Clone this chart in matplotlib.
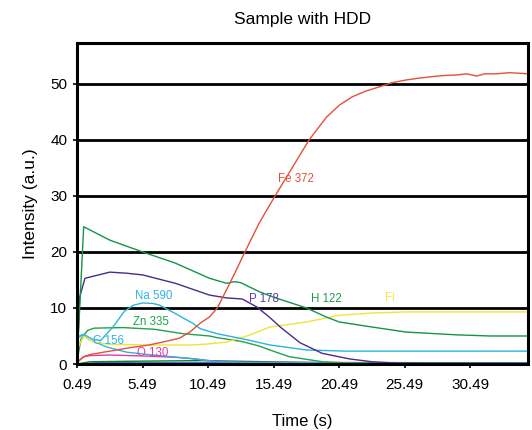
"""Sample with HDD: element intensity traces vs time."""
import matplotlib
matplotlib.use("Agg")
import matplotlib.pyplot as plt

plt.rcParams["font.family"] = ["Liberation Sans", "DejaVu Sans"]

# ---- data ------------------------------------------------------------------
fe_t = [0.49, 1.0, 1.5, 3.0, 4.5, 6.0, 7.0, 8.3, 9.1, 9.9, 10.6, 11.2, 12.4, 13.3, 14.4,
        15.6, 16.9, 18.2, 19.5, 20.5, 21.5, 22.5, 23.6, 24.5, 25.6, 26.5, 27.6, 28.5,
        29.5, 30.2, 31.0, 31.6, 32.5, 33.5, 34.9]
fe_y = [0.3, 1.3, 1.7, 2.3, 2.9, 3.4, 3.9, 4.6, 5.7, 7.3, 8.4, 10.0, 15.6, 20.0, 25.2,
        30.0, 35.0, 40.0, 44.0, 46.2, 47.7, 48.7, 49.5, 50.2, 50.7, 51.0, 51.3, 51.5,
        51.6, 51.8, 51.4, 51.8, 51.8, 52.0, 51.8]

h_t = [0.49, 1.0, 3.0, 5.5, 8.0, 10.6, 11.9, 12.5, 13.0, 14.4, 15.4, 16.7, 18.0, 19.5,
       20.5, 23.0, 25.6, 29.5, 32.0, 34.9]
h_y = [0.3, 24.5, 22.1, 20.0, 18.0, 15.3, 14.4, 14.7, 14.5, 12.9, 12.0, 11.0, 10.0, 8.4,
       7.5, 6.6, 5.7, 5.2, 5.0, 5.0]

p_t = [0.49, 0.7, 1.1, 3.0, 4.3, 5.5, 8.0, 10.6, 11.9, 13.1, 14.2, 15.2, 16.0, 17.5,
       19.2, 21.3, 23.0, 25.0, 34.9]
p_y = [0.2, 12.0, 15.3, 16.4, 16.2, 15.9, 14.4, 12.3, 11.8, 11.6, 10.2, 8.3, 6.6, 3.8,
       1.9, 0.9, 0.4, 0.15, 0.1]

na_t = [0.49, 1.0, 1.7, 2.3, 3.3, 4.1, 4.8, 5.5, 6.3, 6.8, 8.0, 8.6, 9.3, 9.9, 10.6,
        11.2, 13.1, 13.7, 15.2, 18.0, 21.0, 34.9]
na_y = [4.8, 5.3, 4.4, 4.2, 6.8, 9.4, 10.5, 10.9, 10.8, 10.5, 9.0, 8.2, 7.3, 6.3, 5.8,
        5.4, 4.5, 4.2, 3.4, 2.5, 2.3, 2.3]

c_t = [0.49, 0.9, 1.4, 2.8, 4.3, 6.3, 9.1, 11.1, 14.0, 34.9]
c_y = [4.6, 5.2, 4.4, 3.0, 2.1, 1.6, 1.0, 0.4, 0.25, 0.2]

zn_t = [0.49, 0.8, 1.3, 1.8, 4.0, 6.4, 8.6, 10.6, 11.2, 13.1, 14.4, 15.2, 16.7, 19.2,
        21.0, 34.9]
zn_y = [0.5, 4.5, 6.0, 6.4, 6.5, 6.2, 5.4, 5.0, 4.7, 4.0, 3.2, 2.5, 1.3, 0.4, 0.2, 0.1]

fi_t = [0.49, 1.0, 1.8, 3.0, 6.0, 9.3, 10.6, 11.9, 13.7, 15.2, 16.5, 18.0, 20.5, 23.0,
        25.6, 34.9]
fi_y = [2.5, 5.0, 3.9, 3.5, 3.4, 3.4, 3.6, 3.9, 5.2, 6.6, 7.0, 7.5, 8.7, 9.1, 9.3, 9.3]

o_t = [0.49, 1.0, 1.5, 3.0, 6.0, 8.0, 9.5, 11.0, 13.0, 34.9]
o_y = [0.3, 1.3, 1.5, 1.6, 1.4, 1.2, 0.9, 0.5, 0.3, 0.2]

base1_t = [0.49, 1.5, 5.0, 10.0, 15.0, 20.0, 34.9]
base1_y = [0.0, 0.4, 0.5, 0.6, 0.4, 0.2, 0.2]
base2_t = [0.49, 2.0, 34.9]
base2_y = [0.0, 0.2, 0.2]

x_ticks = [0.49, 5.49, 10.49, 15.49, 20.49, 25.49, 30.49]
y_ticks = [0, 10, 20, 30, 40, 50]

series = [
    (base2_t, base2_y, "#1565c0"),
    (base1_t, base1_y, "#0a7a3a"),
    (o_t, o_y, "#e8399b"),
    (c_t, c_y, "#2ab3e6"),
    (zn_t, zn_y, "#1fa34a"),
    (fi_t, fi_y, "#f0e43c"),
    (na_t, na_y, "#2ab3e6"),
    (p_t, p_y, "#4a2a8c"),
    (h_t, h_y, "#13944a"),
    (fe_t, fe_y, "#e4503a"),
]

labels = [
    ("Fe 372", 278, 179, "#e4503a"),
    ("P 178", 249, 299, "#5a3d9a"),
    ("H 122", 311, 299, "#1e9c4c"),
    ("Fi", 385, 298, "#f2e84a"),
    ("Na 590", 135, 296, "#2ab3e6"),
    ("Zn 335", 133, 322, "#1fa34a"),
    ("C 156", 93, 341, "#2ab3e6"),
    ("O 130", 137, 353, "#e8399b"),
]

fig = plt.figure(figsize=(5.32, 4.30), dpi=100)
ax = fig.add_axes([77 / 532, 1 - 364 / 430, 451 / 532, 321 / 430])

for yv in y_ticks[1:]:
    ax.axhline(yv, color="black", lw=2.0, zorder=1)

for t, y, col in series:
    ax.plot(t, y, color=col, lw=1.0, zorder=2)

for text, px, py, col in labels:
    ax.text(px / 532, 1 - py / 430, text, color=col, fontsize=8.3,
            transform=fig.transFigure, ha="left", va="center", zorder=3)

ax.set_xlim(0.49, 34.9)
ax.set_ylim(0, 57.3)
ax.set_xticks(x_ticks)
ax.set_xticklabels([f"{v:.2f}" for v in x_ticks])
ax.set_yticks(y_ticks)
ax.tick_params(direction="out", length=3, width=1.2, labelsize=11)
ax.tick_params(axis="x", pad=7)
ax.tick_params(axis="y", pad=4)
for sp in ax.spines.values():
    sp.set_linewidth(2.2)

ax.set_title("Sample with HDD", fontsize=12.5, pad=14)
ax.set_xlabel("Time (s)", fontsize=12, labelpad=16)
ax.set_ylabel("Intensity (a.u.)", fontsize=12.5, labelpad=9)

fig.savefig("out.png", dpi=100)
